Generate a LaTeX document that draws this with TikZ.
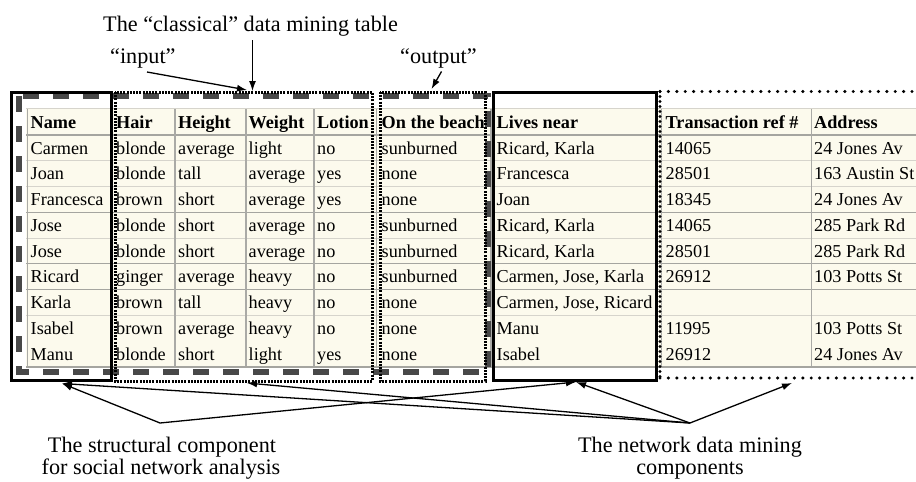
\documentclass[tikz,border=0pt]{standalone}
\usepackage{fontspec}
\setmainfont{Liberation Serif}
\usetikzlibrary{arrows.meta,calc}
\definecolor{cream}{RGB}{252,250,237}
\definecolor{gridlight}{RGB}{214,212,204}
\definecolor{gridmid}{RGB}{165,165,160}
\definecolor{gridvert}{RGB}{170,170,166}
\definecolor{dashgray}{RGB}{72,72,72}

\begin{document}
\begin{tikzpicture}[x=1pt,y=-1pt,
  cell/.style={anchor=base west,inner sep=0pt,font=\fontsize{18.2}{20}\selectfont},
  head/.style={anchor=base west,inner sep=0pt,font=\fontsize{18.2}{20}\selectfont\bfseries},
  caption/.style={inner sep=0pt,font=\fontsize{22.2}{24}\selectfont},
  solidbox/.style={draw=black,line width=3pt},
  finedots/.style={draw=black,line width=3pt,dash pattern=on 2pt off 1.2pt},
  roundhdots/.style={draw=black,line width=3.4pt,line cap=round,dash pattern=on 0pt off 8.4pt},
  roundvdots/.style={draw=black,line width=3.4pt,line cap=round,dash pattern=on 0pt off 5pt},
  graydash/.style={draw=dashgray,line width=5.5pt,dash pattern=on 16pt off 14pt},
  conn/.style={draw=black,line width=1.3pt,-{Latex[length=10pt,width=7pt]}},
]
\useasboundingbox (0,0) rectangle (916,482);
\clip (0,0) rectangle (916,482);

% ---- table body ----
\fill[cream] (26,108) rectangle (930,367.5);
% row separators
\draw[gridlight,line width=1pt] (26,108.5) -- (930,108.5);
\foreach \k in {1,2,4,7} \draw[gridlight,line width=1pt] (26,{135+25.75*\k}) -- (930,{135+25.75*\k});
\draw[gridlight,line width=1pt] (26,{135+25.75*5}) -- (661,{135+25.75*5});
\foreach \k in {0,3,5,6} \draw[gridmid,line width=1.3pt] (26,{135+25.75*\k}) -- (930,{135+25.75*\k});
\draw[gridmid,line width=2.2pt] (26,367) -- (930,367);
% column borders
\foreach \cx in {27.5,111.5,175,246,314,376.5,491,661.5,811.5}
  \draw[gridvert,line width=1.8pt] (\cx,109) -- (\cx,366);

% header row
\node[head] (h-name)  at (30.5,128) {Name};
\node[head] (h-hair)  at (116,128) {Hair};
\node[head] (h-hgt)   at (178,128) {Height};
\node[head] (h-wgt)   at (248.5,128) {Weight};
\node[head] (h-lot)   at (317,128) {Lotion};
\node[head] (h-beach) at (381.5,128) {On the beach};
\node[head] (h-lives) at (496.5,128) {Lives near};
\node[head] (h-trans) at (665.5,128) {Transaction ref \#};
\node[head] (h-addr)  at (814,128) {Address};

% data rows
\foreach \nm/\hr/\hg/\wt/\lt/\bc/\lv/\tr/\ad [count=\r] in {
  Carmen/blonde/average/light/no/sunburned/{Ricard, Karla}/14065/24 Jones Av,
  Joan/blonde/tall/average/yes/none/Francesca/28501/163 Austin St,
  Francesca/brown/short/average/yes/none/Joan/18345/24 Jones Av,
  Jose/blonde/short/average/no/sunburned/{Ricard, Karla}/14065/285 Park Rd,
  Jose/blonde/short/average/no/sunburned/{Ricard, Karla}/28501/285 Park Rd,
  Ricard/ginger/average/heavy/no/sunburned/{Carmen, Jose, Karla}/26912/103 Potts St,
  Karla/brown/tall/heavy/no/none/{Carmen, Jose, Ricard}/{}/{},
  Isabel/brown/average/heavy/no/none/Manu/11995/103 Potts St,
  Manu/blonde/short/light/yes/none/Isabel/26912/24 Jones Av}
{
  \pgfmathsetmacro\yy{154+25.75*(\r-1)}
  \node[cell] (name-\r)  at (30.5,\yy) {\nm};
  \node[cell] (hair-\r)  at (116,\yy) {\hr};
  \node[cell] (hgt-\r)   at (178,\yy) {\hg};
  \node[cell] (wgt-\r)   at (248.5,\yy) {\wt};
  \node[cell] (lot-\r)   at (317,\yy) {\lt};
  \node[cell] (beach-\r) at (381.5,\yy) {\bc};
  \node[cell] (lives-\r) at (496.5,\yy) {\lv};
  \node[cell] (trans-\r) at (665.5,\yy) {\tr};
  \node[cell] (addr-\r)  at (814,\yy) {\ad};
}

% ---- component frames ----
\draw[graydash] (19,96) rectangle (488,372);
\draw[solidbox] (11.5,92) rectangle (111,380);
\draw[solidbox] (493,92.5) rectangle (656.5,380);
\draw[finedots] (115,92) rectangle (372,381);
\draw[finedots] (380,92) rectangle (485,381);
\draw[roundhdots] (660,91.5) -- (935,91.5);
\draw[roundhdots] (660,378) -- (935,378);
\draw[roundvdots] (660,91.5) -- (660,378);

% ---- captions ----
\node[caption,anchor=base west] (classical) at (103,31) {The “classical” data mining table};
\node[caption,anchor=base west] (input)  at (110,63) {“input”};
\node[caption,anchor=base west] (output) at (400,63) {“output”};
\node[caption,anchor=base] (struct1) at (162,452) {The structural component};
\node[caption,anchor=base] (struct2) at (161,474) {for social network analysis};
\node[caption,anchor=base] (net1) at (690,452) {The network data mining};
\node[caption,anchor=base] (net2) at (690,474) {components};

% ---- connector ends ----
\coordinate (classFrom) at (252.5,40);
\coordinate (classTo)   at (252.5,91);
\coordinate (inFrom)    at (147,72);
\coordinate (inTo)      at (247,90);
\coordinate (outFrom)   at (441.5,71.5);
\coordinate (outTo)     at (431.5,89);
\coordinate (apexS) at (160,423);
\coordinate (apexN) at (690,423);
\coordinate (tipName)  at (62,383.5);
\coordinate (tipInput) at (247,383);
\coordinate (tipLives) at (576,382);
\coordinate (tipNet)   at (792,383);

% ---- connectors ----
\draw[conn] (classFrom) -- (classTo);
\draw[conn] (inFrom) -- (inTo);
\draw[conn] (outFrom) -- (outTo);
\draw[conn] (apexS) -- (tipName);
\draw[conn] (apexS) -- (tipLives);
\draw[conn] (apexN) -- (tipName);
\draw[conn] (apexN) -- (tipInput);
\draw[conn] (apexN) -- (tipLives);
\draw[conn] (apexN) -- (tipNet);
\end{tikzpicture}
\end{document}
